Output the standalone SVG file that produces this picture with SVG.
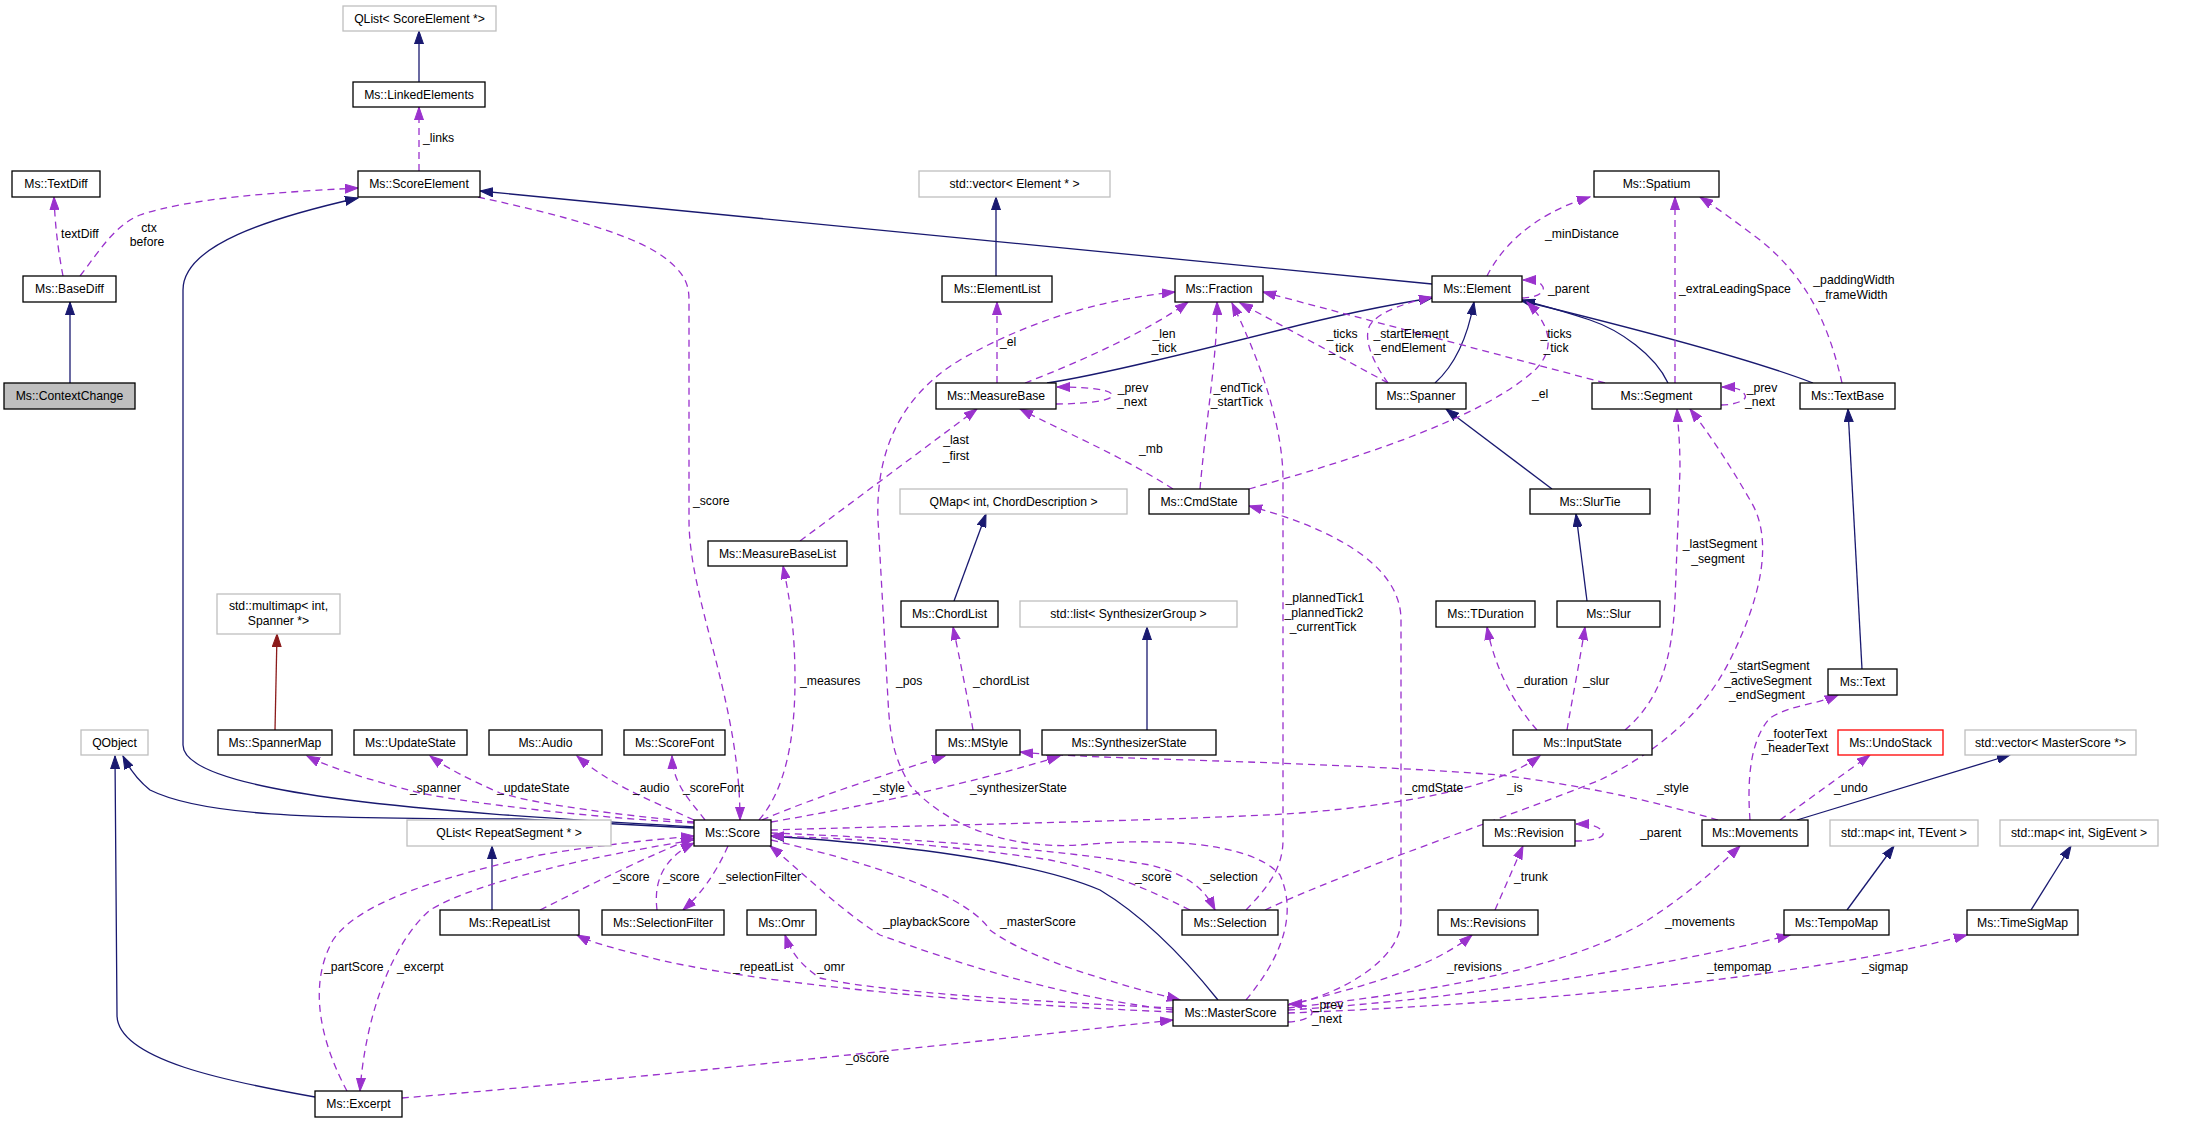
<svg xmlns="http://www.w3.org/2000/svg" width="2210" height="1123" viewBox="0 0 2210 1123">
<style>
.n rect{fill:#fff;stroke:#000;stroke-width:1.3}
.g rect{fill:#fff;stroke:#bfbfbf;stroke-width:1.3}
.r rect{fill:#fff;stroke:#ff0000;stroke-width:1.3}
.c rect{fill:#bfbfbf;stroke:#000;stroke-width:1.3}
text{font-family:"Liberation Sans",Arial,Helvetica,sans-serif;font-size:12.2px;fill:#000}
.n text,.g text,.r text,.c text{text-anchor:middle}
.m{text-anchor:middle}
.e{fill:none;stroke:#191970;stroke-width:1.3;marker-end:url(#an)}
.x{fill:none;stroke:#8b1a1a;stroke-width:1.3;marker-end:url(#ar)}
.d{fill:none;stroke:#9a32cd;stroke-width:1.3;stroke-dasharray:7,5;marker-end:url(#ap)}
</style>
<defs>
<marker id="an" markerWidth="14" markerHeight="10" refX="13" refY="5" orient="auto" markerUnits="userSpaceOnUse"><path d="M0,0.5 L13,5 L0,9.5 Z" fill="#191970" stroke="#191970" stroke-width="1"/></marker>
<marker id="ar" markerWidth="14" markerHeight="10" refX="13" refY="5" orient="auto" markerUnits="userSpaceOnUse"><path d="M0,0.5 L13,5 L0,9.5 Z" fill="#8b1a1a" stroke="#8b1a1a" stroke-width="1"/></marker>
<marker id="ap" markerWidth="14" markerHeight="10" refX="13" refY="5" orient="auto" markerUnits="userSpaceOnUse"><path d="M0,0.5 L13,5 L0,9.5 Z" fill="#9a32cd" stroke="#9a32cd" stroke-width="1"/></marker>
</defs>
<rect x="0" y="0" width="2210" height="1123" fill="#fff"/>

<g id="edges">
<!-- inheritance -->
<path class="e" d="M419,82 L419,31"/>
<path class="e" d="M70,383 L70,302"/>
<path class="e" d="M694,827 C500,815 183,800 183,745 L183,290 C183,245 270,218 358,198"/>
<path class="e" d="M694,828 L520,819 C300,819 200,815 150,790 C140,782 130,770 123,756"/>
<path class="e" d="M315,1097 C230,1082 117,1060 117,1015 L115,756"/>
<path class="e" d="M1432,284 L480,191"/>
<path class="e" d="M996,276 L996,197"/>
<path class="e" d="M1047,383 C1100,375 1200,350 1280,330 C1350,312 1400,303 1432,298"/>
<path class="e" d="M1435,383 C1455,365 1468,335 1474,302"/>
<path class="e" d="M1668,383 C1655,355 1620,330 1590,320 C1560,310 1540,305 1522,300"/>
<path class="e" d="M1813,383 C1740,355 1600,320 1522,301"/>
<path class="e" d="M1552,489 L1446,409"/>
<path class="e" d="M1587,601 L1576,514"/>
<path class="e" d="M1862,669 L1848,409"/>
<path class="e" d="M954,601 L986,514"/>
<path class="e" d="M1147,730 L1147,627"/>
<path class="x" d="M275,730 L277,634"/>
<path class="e" d="M492,910 L492,846"/>
<path class="e" d="M1218,1000 C1190,965 1150,920 1100,890 C1030,860 900,845 771,836"/>
<path class="e" d="M1797,820 L2010,755"/>
<path class="e" d="M1847,910 L1894,846"/>
<path class="e" d="M2031,910 L2071,846"/>

<!-- usage -->
<path class="d" d="M419,171 L419,107"/>
<path class="d" d="M63,276 C58,250 55,225 54,197"/>
<path class="d" d="M80,276 C100,250 115,225 140,215 C190,198 280,192 358,188"/>
<path class="d" d="M478,197 C560,215 640,235 670,262 C685,275 689,285 689,300 L689,520 C689,600 740,700 740,820"/>
<path class="d" d="M800,541 L977,409"/>
<path class="d" d="M759,820 C785,790 795,740 795,680 C795,630 790,600 783,566"/>
<path class="d" d="M1246,1000 C1275,965 1300,920 1280,875 C1250,840 1150,838 1080,845 C1000,850 940,820 910,785 C895,760 890,740 888,700 L878,520 C875,440 910,390 960,360 C1030,320 1100,300 1175,292"/>
<path class="d" d="M1025,383 C1080,362 1150,330 1188,302"/>
<path class="d" d="M997,383 L997,302"/>
<path class="d" d="M1056,404 C1075,404 1110,402 1112,396 C1114,390 1090,387 1057,387"/>
<path class="d" d="M1200,489 C1206,420 1218,350 1217,302"/>
<path class="d" d="M1246,910 C1265,890 1283,870 1283,840 L1283,480 C1283,420 1255,350 1232,303"/>
<path class="d" d="M1388,383 L1240,303"/>
<path class="d" d="M1605,383 L1263,292"/>
<path class="d" d="M1487,276 C1500,250 1530,215 1590,197"/>
<path class="d" d="M1522,298 C1535,298 1545,293 1543,287 C1540,281 1535,280 1523,280"/>
<path class="d" d="M1388,383 C1375,365 1362,340 1370,325 C1380,310 1410,302 1432,297"/>
<path class="d" d="M1249,489 C1350,460 1480,420 1535,370 C1560,345 1545,320 1527,302"/>
<path class="d" d="M1675,383 L1675,197"/>
<path class="d" d="M1842,383 C1830,330 1810,280 1760,240 C1740,225 1720,210 1700,197"/>
<path class="d" d="M1721,405 C1735,405 1748,400 1745,395 C1742,389 1735,387 1722,387"/>
<path class="d" d="M1173,489 C1120,455 1060,430 1020,409"/>
<path class="d" d="M1288,1005 C1340,995 1401,960 1401,920 L1401,620 C1401,560 1320,525 1249,506"/>
<path class="d" d="M771,830 C900,826 1200,820 1300,813 C1420,803 1500,785 1540,756"/>
<path class="d" d="M771,822 C900,800 1000,775 1060,756"/>
<path class="d" d="M1718,820 C1650,800 1580,785 1500,775 C1300,760 1100,760 1020,752"/>
<path class="d" d="M762,820 C820,795 900,770 945,756"/>
<path class="d" d="M694,823 C600,818 480,805 420,793 C370,780 330,768 307,756"/>
<path class="d" d="M694,822 C620,815 540,805 500,793 C470,780 445,767 430,756"/>
<path class="d" d="M694,820 C650,800 610,785 577,756"/>
<path class="d" d="M705,820 C690,800 673,785 672,756"/>
<path class="d" d="M973,730 C968,700 960,660 953,627"/>
<path class="d" d="M1537,730 C1515,705 1495,670 1487,627"/>
<path class="d" d="M1567,730 C1572,700 1580,660 1585,627"/>
<path class="d" d="M1625,730 C1660,700 1672,660 1675,600 L1680,470 C1680,440 1678,425 1677,409"/>
<path class="d" d="M1265,910 C1350,870 1500,820 1600,780 C1650,755 1700,720 1730,660 C1760,600 1775,540 1750,500 C1730,465 1710,435 1690,409"/>
<path class="d" d="M1750,820 C1747,780 1750,740 1770,718 C1790,705 1815,705 1838,695"/>
<path class="d" d="M1780,820 L1870,755"/>
<path class="d" d="M1575,841 C1590,841 1605,838 1603,833 C1600,826 1590,824 1576,824"/>
<path class="d" d="M1495,910 L1523,846"/>
<path class="d" d="M1288,1005 C1350,990 1430,970 1472,935"/>
<path class="d" d="M1288,1008 C1400,995 1550,975 1640,925 C1680,900 1710,875 1740,846"/>
<path class="d" d="M1288,1010 C1450,1000 1650,970 1790,935"/>
<path class="d" d="M1288,1013 C1500,1005 1800,980 1967,935"/>
<path class="d" d="M1288,1022 C1300,1022 1313,1017 1312,1012 C1310,1006 1300,1004 1289,1004"/>
<path class="d" d="M1173,1012 C1000,1005 750,985 640,955 C610,947 590,942 577,935"/>
<path class="d" d="M1173,1008 C1000,1000 870,990 820,978 C800,965 790,950 785,935"/>
<path class="d" d="M402,1098 C600,1082 900,1050 1173,1020"/>
<path class="d" d="M1173,1010 C1050,995 950,960 880,935 C840,910 800,870 770,846"/>
<path class="d" d="M771,840 C900,870 970,900 990,930 C1030,960 1120,985 1180,1000"/>
<path class="d" d="M1190,910 C1140,885 1100,870 1050,860 C950,845 850,838 771,836"/>
<path class="d" d="M771,833 C900,838 1050,848 1150,865 C1190,875 1205,890 1215,910"/>
<path class="d" d="M540,910 C600,880 650,855 694,838"/>
<path class="d" d="M657,910 C654,885 660,860 694,843"/>
<path class="d" d="M728,846 C715,875 700,895 683,910"/>
<path class="d" d="M347,1091 C325,1050 305,990 333,940 C360,900 450,875 540,855 C600,845 650,840 694,836"/>
<path class="d" d="M694,840 C600,855 480,880 430,910 C390,945 365,1020 360,1091"/>

<!-- labels -->
<text x="423" y="142">_links</text>
<text x="61" y="238">textDiff</text>
<text class="m" x="149" y="232">ctx</text>
<text class="m" x="147" y="246">before</text>
<text x="693" y="505">_score</text>
<text class="m" x="956" y="444">_last</text>
<text class="m" x="956" y="460">_first</text>
<text x="1000" y="346">_el</text>
<text class="m" x="1164" y="338">_len</text>
<text class="m" x="1164" y="352">_tick</text>
<text class="m" x="1342" y="338">_ticks</text>
<text class="m" x="1341" y="352">_tick</text>
<text class="m" x="1411" y="338">_startElement</text>
<text class="m" x="1410" y="352">_endElement</text>
<text class="m" x="1556" y="338">_ticks</text>
<text class="m" x="1556" y="352">_tick</text>
<text x="1545" y="238">_minDistance</text>
<text x="1548" y="293">_parent</text>
<text x="1679" y="293">_extraLeadingSpace</text>
<text class="m" x="1854" y="284">_paddingWidth</text>
<text class="m" x="1853" y="299">_frameWidth</text>
<text class="m" x="1133" y="392">_prev</text>
<text class="m" x="1132" y="406">_next</text>
<text class="m" x="1238" y="392">_endTick</text>
<text class="m" x="1237" y="406">_startTick</text>
<text x="1139" y="453">_mb</text>
<text x="1532" y="398">_el</text>
<text class="m" x="1762" y="392">_prev</text>
<text class="m" x="1760" y="406">_next</text>
<text class="m" x="1325" y="602">_plannedTick1</text>
<text class="m" x="1324" y="617">_plannedTick2</text>
<text class="m" x="1323" y="631">_currentTick</text>
<text x="800" y="685">_measures</text>
<text x="896" y="685">_pos</text>
<text x="973" y="685">_chordList</text>
<text x="1517" y="685">_duration</text>
<text x="1583" y="685">_slur</text>
<text class="m" x="1720" y="548">_lastSegment</text>
<text class="m" x="1718" y="563">_segment</text>
<text class="m" x="1770" y="670">_startSegment</text>
<text class="m" x="1768" y="685">_activeSegment</text>
<text class="m" x="1767" y="699">_endSegment</text>
<text class="m" x="1797" y="738">_footerText</text>
<text class="m" x="1795" y="752">_headerText</text>
<text x="410" y="792">_spanner</text>
<text x="497" y="792">_updateState</text>
<text x="633" y="792">_audio</text>
<text x="683" y="792">_scoreFont</text>
<text x="873" y="792">_style</text>
<text x="970" y="792">_synthesizerState</text>
<text x="1405" y="792">_cmdState</text>
<text x="1507" y="792">_is</text>
<text x="1657" y="792">_style</text>
<text x="1834" y="792">_undo</text>
<text x="1640" y="837">_parent</text>
<text x="613" y="881">_score</text>
<text x="663" y="881">_score</text>
<text x="719" y="881">_selectionFilter</text>
<text x="1135" y="881">_score</text>
<text x="1203" y="881">_selection</text>
<text x="1514" y="881">_trunk</text>
<text x="883" y="926">_playbackScore</text>
<text x="1000" y="926">_masterScore</text>
<text x="1665" y="926">_movements</text>
<text x="324" y="971">_partScore</text>
<text x="397" y="971">_excerpt</text>
<text x="733" y="971">_repeatList</text>
<text x="817" y="971">_omr</text>
<text x="1447" y="971">_revisions</text>
<text x="1707" y="971">_tempomap</text>
<text x="1862" y="971">_sigmap</text>
<text class="m" x="1328" y="1009">_prev</text>
<text class="m" x="1327" y="1023">_next</text>
<text x="846" y="1062">_oscore</text>
</g>

<g id="n_qlist_se" class="g"><rect x="343" y="6" width="153" height="25"/><text x="419.5" y="22.5">QList&lt; ScoreElement *&gt;</text></g>
<g id="n_linkedelements" class="n"><rect x="353" y="82" width="132" height="25"/><text x="419" y="98.5">Ms::LinkedElements</text></g>
<g id="n_scoreelement" class="n"><rect x="358" y="171" width="122" height="26"/><text x="419" y="188">Ms::ScoreElement</text></g>
<g id="n_textdiff" class="n"><rect x="12" y="171" width="88" height="26"/><text x="56" y="188">Ms::TextDiff</text></g>
<g id="n_basediff" class="n"><rect x="23" y="276" width="93" height="26"/><text x="69.5" y="293">Ms::BaseDiff</text></g>
<g id="n_contextchange" class="c"><rect x="4" y="383" width="131" height="26"/><text x="69.5" y="400">Ms::ContextChange</text></g>
<g id="n_vec_element" class="g"><rect x="919" y="171" width="191" height="26"/><text x="1014.5" y="188">std::vector&lt; Element * &gt;</text></g>
<g id="n_elementlist" class="n"><rect x="942" y="276" width="110" height="26"/><text x="997" y="293">Ms::ElementList</text></g>
<g id="n_fraction" class="n"><rect x="1175" y="276" width="88" height="26"/><text x="1219" y="293">Ms::Fraction</text></g>
<g id="n_element" class="n"><rect x="1432" y="276" width="90" height="26"/><text x="1477" y="293">Ms::Element</text></g>
<g id="n_spatium" class="n"><rect x="1594" y="171" width="125" height="26"/><text x="1656.5" y="188">Ms::Spatium</text></g>
<g id="n_measurebase" class="n"><rect x="936" y="383" width="120" height="26"/><text x="996" y="400">Ms::MeasureBase</text></g>
<g id="n_spanner" class="n"><rect x="1376" y="383" width="90" height="26"/><text x="1421" y="400">Ms::Spanner</text></g>
<g id="n_segment" class="n"><rect x="1592" y="383" width="129" height="26"/><text x="1656.5" y="400">Ms::Segment</text></g>
<g id="n_textbase" class="n"><rect x="1800" y="383" width="95" height="26"/><text x="1847.5" y="400">Ms::TextBase</text></g>
<g id="n_cmdstate" class="n"><rect x="1149" y="489" width="100" height="25"/><text x="1199" y="505.5">Ms::CmdState</text></g>
<g id="n_qmap" class="g"><rect x="900" y="489" width="227" height="25"/><text x="1013.5" y="505.5">QMap&lt; int, ChordDescription &gt;</text></g>
<g id="n_slurtie" class="n"><rect x="1530" y="489" width="120" height="25"/><text x="1590" y="505.5">Ms::SlurTie</text></g>
<g id="n_measurebaselist" class="n"><rect x="708" y="541" width="139" height="25"/><text x="777.5" y="557.5">Ms::MeasureBaseList</text></g>
<g id="n_chordlist" class="n"><rect x="901" y="601" width="97" height="26"/><text x="949.5" y="618">Ms::ChordList</text></g>
<g id="n_list_synth" class="g"><rect x="1020" y="601" width="217" height="26"/><text x="1128.5" y="618">std::list&lt; SynthesizerGroup &gt;</text></g>
<g id="n_tduration" class="n"><rect x="1436" y="601" width="99" height="26"/><text x="1485.5" y="618">Ms::TDuration</text></g>
<g id="n_slur" class="n"><rect x="1557" y="601" width="103" height="26"/><text x="1608.5" y="618">Ms::Slur</text></g>
<g id="n_multimap" class="g"><rect x="217" y="594" width="123" height="40"/><text x="278.5" y="610">std::multimap&lt; int,</text><text x="278.5" y="625">Spanner *&gt;</text></g>
<g id="n_text" class="n"><rect x="1828" y="669" width="69" height="26"/><text x="1862.5" y="686">Ms::Text</text></g>
<g id="n_qobject" class="g"><rect x="81" y="730" width="67" height="25"/><text x="114.5" y="746.5">QObject</text></g>
<g id="n_spannermap" class="n"><rect x="218" y="730" width="114" height="25"/><text x="275" y="746.5">Ms::SpannerMap</text></g>
<g id="n_updatestate" class="n"><rect x="354" y="730" width="113" height="25"/><text x="410.5" y="746.5">Ms::UpdateState</text></g>
<g id="n_audio" class="n"><rect x="489" y="730" width="113" height="25"/><text x="545.5" y="746.5">Ms::Audio</text></g>
<g id="n_scorefont" class="n"><rect x="624" y="730" width="101" height="25"/><text x="674.5" y="746.5">Ms::ScoreFont</text></g>
<g id="n_mstyle" class="n"><rect x="936" y="730" width="84" height="25"/><text x="978" y="746.5">Ms::MStyle</text></g>
<g id="n_synthesizerstate" class="n"><rect x="1042" y="730" width="174" height="25"/><text x="1129" y="746.5">Ms::SynthesizerState</text></g>
<g id="n_inputstate" class="n"><rect x="1513" y="730" width="139" height="25"/><text x="1582.5" y="746.5">Ms::InputState</text></g>
<g id="n_undostack" class="r"><rect x="1838" y="730" width="105" height="25"/><text x="1890.5" y="746.5">Ms::UndoStack</text></g>
<g id="n_vec_masterscore" class="g"><rect x="1965" y="730" width="171" height="25"/><text x="2050.5" y="746.5">std::vector&lt; MasterScore *&gt;</text></g>
<g id="n_score" class="n"><rect x="694" y="820" width="77" height="26"/><text x="732.5" y="837">Ms::Score</text></g>
<g id="n_qlist_rs" class="g"><rect x="407" y="820" width="204" height="26"/><text x="509" y="837">QList&lt; RepeatSegment * &gt;</text></g>
<g id="n_revision" class="n"><rect x="1483" y="820" width="92" height="26"/><text x="1529" y="837">Ms::Revision</text></g>
<g id="n_movements" class="n"><rect x="1702" y="820" width="106" height="26"/><text x="1755" y="837">Ms::Movements</text></g>
<g id="n_map_tevent" class="g"><rect x="1830" y="820" width="148" height="26"/><text x="1904" y="837">std::map&lt; int, TEvent &gt;</text></g>
<g id="n_map_sigevent" class="g"><rect x="2000" y="820" width="158" height="26"/><text x="2079" y="837">std::map&lt; int, SigEvent &gt;</text></g>
<g id="n_repeatlist" class="n"><rect x="440" y="910" width="139" height="25"/><text x="509.5" y="926.5">Ms::RepeatList</text></g>
<g id="n_selectionfilter" class="n"><rect x="602" y="910" width="122" height="25"/><text x="663" y="926.5">Ms::SelectionFilter</text></g>
<g id="n_omr" class="n"><rect x="747" y="910" width="69" height="25"/><text x="781.5" y="926.5">Ms::Omr</text></g>
<g id="n_selection" class="n"><rect x="1182" y="910" width="96" height="25"/><text x="1230" y="926.5">Ms::Selection</text></g>
<g id="n_revisions" class="n"><rect x="1438" y="910" width="100" height="25"/><text x="1488" y="926.5">Ms::Revisions</text></g>
<g id="n_tempomap" class="n"><rect x="1784" y="910" width="105" height="25"/><text x="1836.5" y="926.5">Ms::TempoMap</text></g>
<g id="n_timesigmap" class="n"><rect x="1967" y="910" width="111" height="25"/><text x="2022.5" y="926.5">Ms::TimeSigMap</text></g>
<g id="n_masterscore" class="n"><rect x="1173" y="1000" width="115" height="26"/><text x="1230.5" y="1017">Ms::MasterScore</text></g>
<g id="n_excerpt" class="n"><rect x="315" y="1091" width="87" height="26"/><text x="358.5" y="1108">Ms::Excerpt</text></g>
</svg>
